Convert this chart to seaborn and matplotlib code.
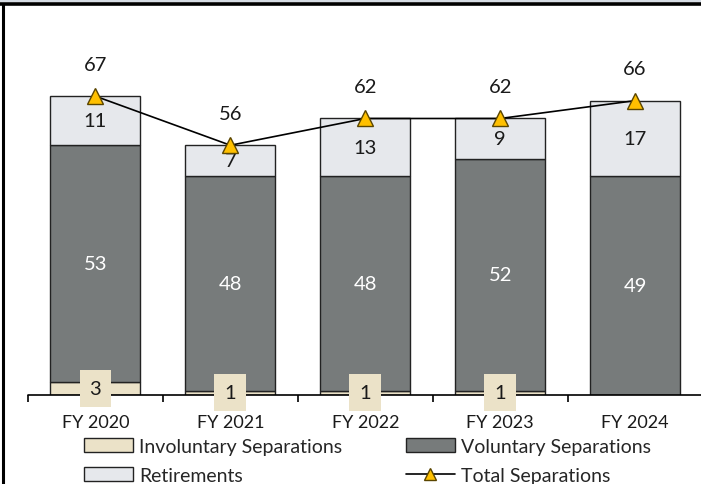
import numpy as np
import matplotlib.pyplot as plt
import seaborn as sns
from matplotlib.patches import Rectangle, Patch
from matplotlib.lines import Line2D

# data
years = ['FY 2020', 'FY 2021', 'FY 2022', 'FY 2023', 'FY 2024']
involuntary = [3, 1, 1, 1, 0]
voluntary = [53, 48, 48, 52, 49]
retirements = [11, 7, 13, 9, 17]
total = [67, 56, 62, 62, 66]

c_inv = '#EBE2C8'
c_vol = '#777B7B'
c_ret = '#E6E8EC'
c_tot = '#FFC000'

sns.set_theme(style='white')
plt.rcParams['font.family'] = ['Lato', 'DejaVu Sans']
fs = 13
fs_lab = 14.5

fig = plt.figure(figsize=(7.01, 4.85), dpi=100)
ax = fig.add_axes([28 / 701, 89 / 485, 660 / 701, 388 / 485])
ax.set_frame_on(False)

inv = np.array(involuntary)
vol = np.array(voluntary)
ret = np.array(retirements)
w = 0.667
sns.barplot(x=years, y=inv, color=c_inv, width=w, edgecolor='#222222',
            linewidth=1, saturation=1, ax=ax)
sns.barplot(x=years, y=vol, bottom=inv, color=c_vol, width=w,
            edgecolor='#222222', linewidth=1, saturation=1, ax=ax)
sns.barplot(x=years, y=ret, bottom=inv + vol, color=c_ret, width=w,
            edgecolor='#222222', linewidth=1, saturation=1, ax=ax)
sns.lineplot(x=np.arange(len(years)), y=total, color='black', lw=1.2,
             marker='^', markersize=11, markerfacecolor=c_tot,
             markeredgecolor='#5A4500', markeredgewidth=1, ax=ax, zorder=5)

# labels
for i in range(len(years)):
    if inv[i] > 0:
        ax.text(i, inv[i] / 2, str(inv[i]), ha='center', va='center',
                fontsize=fs_lab, color='#1a1a1a', zorder=6,
                bbox=dict(boxstyle='square,pad=0.5', fc=c_inv, ec='none'))
    ax.text(i, inv[i] + vol[i] / 2, str(vol[i]), ha='center', va='center',
            fontsize=fs_lab, color='white')
    ax.text(i, inv[i] + vol[i] + ret[i] / 2, str(ret[i]), ha='center',
            va='center', fontsize=fs_lab, color='#1a1a1a')
    ax.annotate(str(total[i]), (i, total[i]), xytext=(0, 23),
                textcoords='offset points', ha='center', va='center',
                fontsize=fs_lab, color='#1a1a1a')

ax.set_xlim(-0.5, -0.5 + 660 / 134.9)
ax.set_ylim(0, 87)
ax.set_ylabel('')
ax.set_yticks([])
# baseline drawn across to the right edge, like the reference
ax.axhline(0, xmin=0, xmax=673 / 660, color='black', lw=1.2, clip_on=False, zorder=4)
ax.set_xticks(range(len(years)))
ax.set_xticklabels(years, fontsize=fs, color='#1a1a1a')
ax.set_xticks(np.arange(-0.5, 4.0, 1), minor=True)
ax.tick_params(axis='x', which='major', length=0, pad=14)
ax.tick_params(axis='x', which='minor', length=5, width=1.2, color='black',
               direction='out', bottom=True)

# legend in two columns
h_inv = Patch(fc=c_inv, ec='#222222', lw=1)
h_vol = Patch(fc=c_vol, ec='#222222', lw=1)
h_ret = Patch(fc=c_ret, ec='#222222', lw=1)
h_tot = Line2D([], [], color='black', lw=1.2, marker='^', markersize=9,
               markerfacecolor=c_tot, markeredgecolor='#5A4500')
leg_kw = dict(frameon=False, fontsize=14, handlelength=2.5, handleheight=0.7,
              handletextpad=0.35, labelspacing=0.6, borderaxespad=0,
              borderpad=0, loc='upper left')
leg1 = fig.legend([h_inv, h_ret], ['Involuntary Separations', 'Retirements'],
                  bbox_to_anchor=(84 / 701, 1 - 439 / 485), **leg_kw)
leg2 = fig.legend([h_vol, h_tot], ['Voluntary Separations', 'Total Separations'],
                  bbox_to_anchor=(406 / 701, 1 - 439 / 485), **leg_kw)

# frame bits at the top and left edge
fig.add_artist(Rectangle((0, 1 - 3 / 485), 1, 3 / 485, transform=fig.transFigure,
                         fc='#D6DCE4', ec='none', lw=0))
fig.add_artist(Line2D([0, 1], [1 - 4.8 / 485, 1 - 4.8 / 485], transform=fig.transFigure,
                      color='black', lw=2.6))
fig.add_artist(Line2D([2.5 / 701, 2.5 / 701], [0, 1 - 4.8 / 485], transform=fig.transFigure,
                      color='black', lw=2.2))
# keep the right edge clean
fig.add_artist(Rectangle((697 / 701, 90 / 485), 4 / 701, 388 / 485,
                         transform=fig.transFigure, fc='white', ec='none', lw=0))

fig.savefig('out.png', dpi=100)
